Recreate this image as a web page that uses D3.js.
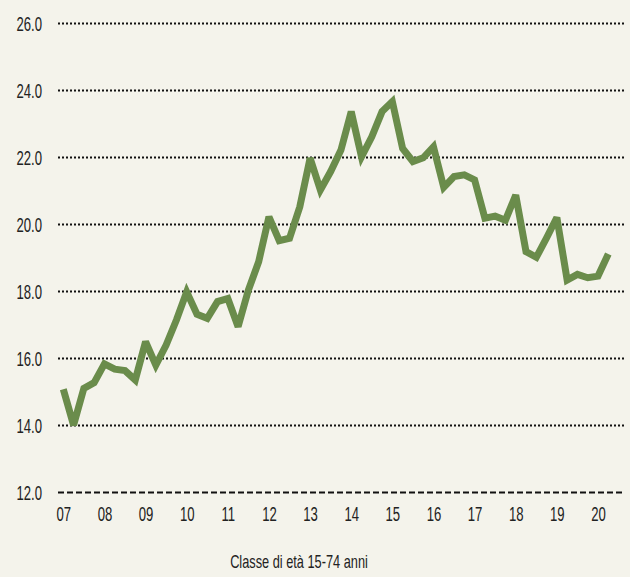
<!DOCTYPE html>
<html>
<head>
<meta charset="utf-8">
<script src="https://cdn.jsdelivr.net/npm/d3@7"></script>
<style>
  html, body { margin: 0; padding: 0; background: #f4f3eb; }
  svg { display: block; }
  text { font-family: "Liberation Sans", Arial, sans-serif; fill: #222; }
</style>
</head>
<body>
<svg id="chart" width="630" height="577"></svg>
<script>
// Quarterly series, 2007 Q1 – 2020 Q2 (percent)
const quarters = d3.range(54);
const values = [
  15.08, 14.01, 15.11, 15.28,
  15.84, 15.68, 15.64, 15.36,
  16.50, 15.80, 16.40, 17.15,
  17.99, 17.32, 17.20, 17.70,
  17.79, 16.95, 18.04, 18.89,
  20.23, 19.52, 19.59, 20.53,
  21.98, 21.03, 21.58, 22.22,
  23.37, 22.02, 22.62, 23.37,
  23.67, 22.27, 21.88, 21.99,
  22.32, 21.11, 21.43, 21.48,
  21.33, 20.19, 20.25, 20.13,
  20.88, 19.19, 19.02, 19.60,
  20.21, 18.34, 18.51, 18.41,
  18.46, 19.12
];
const yearLabels = ["07","08","09","10","11","12","13","14","15","16","17","18","19","20"];
const yTicks = [12, 14, 16, 18, 20, 22, 24, 26];
const caption = "Classe di età 15-74 anni";

const svg = d3.select("#chart");

const x = d3.scaleLinear().domain([0, 52]).range([63.3, 598]);
const y = d3.scaleLinear().domain([12, 26]).range([492.5, 23.5]);
const gridLeft = 58, gridRight = 625;

// condensed lettering
const squeeze = 0.64;

// horizontal grid
const grid = svg.append("g");
yTicks.forEach(t => {
  grid.append("line")
    .attr("x1", gridLeft).attr("x2", gridRight)
    .attr("y1", y(t)).attr("y2", y(t))
    .attr("stroke", "#111")
    .attr("stroke-width", 2)
    .attr("stroke-dasharray", t === 12 ? "6,3" : "2,2");
});

// y axis labels
const yAxis = d3.axisLeft(y).tickValues(yTicks).tickSize(0).tickFormat(d3.format(".1f"));
const gy = svg.append("g").attr("transform", "translate(42,0)").call(yAxis);
gy.select(".domain").remove();
gy.selectAll("text")
  .attr("x", 0).attr("dy", null)
  .attr("font-size", 20.5)
  .attr("text-anchor", "end")
  .attr("dominant-baseline", "central")
  .attr("transform", `scale(${squeeze},1)`);

// x axis labels at the first quarter of each year
const xAxis = d3.axisBottom(x)
  .tickValues(yearLabels.map((_, i) => i * 4))
  .tickSize(0)
  .tickFormat((d, i) => yearLabels[i]);
const gx = svg.append("g").attr("transform", "translate(0,506)").call(xAxis);
gx.select(".domain").remove();
gx.selectAll("text")
  .attr("y", 0).attr("dy", null)
  .attr("font-size", 20.5)
  .attr("text-anchor", "middle")
  .attr("dominant-baseline", "hanging")
  .attr("transform", `scale(${squeeze},1)`);

// series line
const line = d3.line().x((d, i) => x(quarters[i])).y(d => y(d));
svg.append("path")
  .datum(values)
  .attr("d", line)
  .attr("fill", "none")
  .attr("stroke", "#6a8c4b")
  .attr("stroke-width", 7)
  .attr("stroke-linejoin", "miter")
  .attr("stroke-miterlimit", 3)
  .attr("stroke-linecap", "butt");

// caption
svg.append("text")
  .attr("transform", `translate(299,568) scale(0.71,1)`)
  .attr("text-anchor", "middle")
  .attr("font-size", 18)
  .text(caption);
</script>
</body>
</html>
